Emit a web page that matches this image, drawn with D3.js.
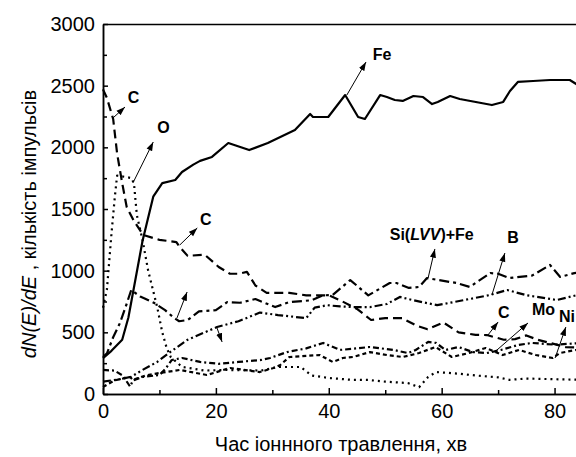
<!DOCTYPE html>
<html lang="uk">
<head>
<meta charset="UTF-8">
<title>dN(E)/dE profile</title>
<style>
  body { margin: 0; background: #fff; }
  svg { display: block; font-family: Arial, "Liberation Sans", sans-serif; }
  .axis path, .axis line { stroke: #000; stroke-width: 1.5; }
  .axis text { font-size: 20px; fill: #000; font-family: Arial, "Liberation Sans", sans-serif; }
  .series { fill: none; stroke: #000; stroke-width: 2.2; stroke-linejoin: round; }
  .label { font-size: 16px; font-weight: bold; }
  .arrow { stroke: #000; stroke-width: 1; }
</style>
</head>
<body>
<svg width="576" height="457"></svg>
<script src="https://d3js.org/d3.v7.min.js"></script>
<script>
// series: [time, min ; counts]
const fe = [[0,290],[1.5,350],[3.4,440],[4.5,620],[7,1240],[8.9,1600],[10.5,1710],[12.8,1735],[14,1800],[16,1860],[17.2,1890],[19.3,1922],[22.2,2035],[25.9,1978],[29.2,2035],[34,2140],[36.7,2270],[37.2,2246],[39.9,2246],[42.9,2424],[45.2,2246],[46.4,2230],[49.1,2424],[50.3,2408],[51.7,2384],[53.1,2376],[55,2416],[56.7,2408],[58.3,2351],[59.3,2368],[61.5,2416],[63.2,2392],[68.9,2343],[70.9,2368],[72.1,2457],[73.5,2530],[76.2,2538],[79.2,2546],[82.7,2546],[85,2480]];
const carbon = [[0,2470],[0.7,2400],[1.8,2230],[2.5,1950],[3.4,1710],[4.2,1516],[5.4,1410],[7.1,1290],[10,1250],[13,1232],[13.6,1192],[15,1120],[18,1130],[20.5,1030],[22.5,975],[24,975],[25.5,990],[27,880],[29,820],[33,820],[36,800],[40,800],[42,760],[45,690],[47.5,600],[50,615],[53,615],[55.5,555],[57.5,525],[60.3,580],[63,500],[66,480],[68,478],[71,440],[73,445],[75,475],[77,440],[79.5,410],[82,380],[85,375]];
const oxygen = [[0,700],[0.7,850],[1.5,1300],[2.1,1600],[2.5,1770],[4,1760],[5.1,1750],[5.5,1700],[6,1450],[7,1250],[8,1000],[9.6,705],[10.5,500],[11.3,370],[12,300],[14,220],[18,190],[22,195],[28,190],[31,219],[35,219],[37,150],[40,130],[44,115],[47,114],[50,100],[54,89],[56,55],[57.6,138],[59,178],[63,165],[66,150],[70,135],[72,115],[75,125],[80,120],[85,115]];
const siFe = [[0,300],[0.7,330],[1.8,460],[3,575],[4,705],[5,843],[6.6,790],[9,740],[11,680],[12.5,620],[13.5,590],[15,600],[17,670],[20,680],[22,745],[24.3,740],[27,770],[30.5,705],[33,745],[37,760],[39,800],[40.7,803],[43.8,924],[47,800],[50.8,900],[52,900],[54.2,860],[56,868],[57.4,940],[62.6,900],[65,868],[68.6,981],[70,975],[72,940],[76,960],[79.2,1046],[81,949],[83.5,980],[85,990]];
const boron = [[0,100],[3,120],[5,140],[7,195],[9.6,260],[11.9,340],[15,440],[20.2,543],[24,590],[27.8,660],[31,640],[34,625],[36,615],[37.5,700],[39.7,720],[42,710],[44.3,705],[47.3,705],[50.3,730],[52.6,787],[55,760],[59.2,720],[63.8,760],[68.6,803],[71.6,843],[75.1,800],[80.4,762],[83.8,800],[85,810]];
const moly = [[0,195],[2,190],[3.5,150],[4.8,60],[5.3,110],[7,138],[10,154],[11,200],[12.2,276],[14,292],[17.2,260],[20.5,245],[24,260],[28,276],[29.6,292],[32.6,340],[36,370],[39,414],[42,357],[45,370],[47.3,381],[51.5,357],[54,332],[55.4,357],[57.6,422],[59,414],[60.7,357],[63,381],[65.5,340],[68,332],[70.5,357],[73.5,397],[76,414],[80,400],[85,414]];
const nickel = [[0,57],[2,110],[4.8,138],[5.3,114],[7.5,150],[10,170],[13.6,195],[18.4,154],[22.5,211],[27.8,178],[30.2,211],[31.4,235],[33,300],[38.4,316],[40.7,260],[42.5,292],[44.3,300],[47.3,340],[50.3,316],[53.1,300],[56,332],[58.9,381],[61.8,300],[64.8,332],[67.8,373],[70.8,316],[73.7,357],[76.7,316],[79.7,292],[80.9,332],[83.8,357],[85,350]];

const xTicks = [0, 20, 40, 60, 80];
const xMinor = [10, 30, 50, 70, 90];
const yTicks = [0, 500, 1000, 1500, 2000, 2500, 3000];
const yMinor = [250, 750, 1250, 1750, 2250, 2750];

// annotations: text, label pos, arrow from -> to (data units)
const notes = [
  { text: "C", at: [4.4, 2360], from: [1.77, 2238], to: [3.9, 2327] },
  { text: "O", at: [9.6, 2116], from: [5.3, 1711], to: [8.9, 2043] },
  { text: "Fe", at: [47.8, 2708], from: [43.2, 2424], to: [46.6, 2692] },
  { text: "C", at: [17.2, 1370], from: [13.6, 1208], to: [16.7, 1346] },
  { text: "", at: null, from: [13.1, 616], to: [14.9, 827] },
  { text: "", at: null, from: [20.2, 535], to: [21.1, 422] },
  { text: "SiFe", at: [50.8, 1249], from: [57.6, 941], to: [58.8, 1176] },
  { text: "B", at: [71.6, 1224], from: [68.9, 803], to: [71.2, 1143] },
  { text: "C", at: [70, 616], from: [68.2, 478], to: [70, 584] },
  { text: "Mo", at: [76, 640], from: [69.4, 341], to: [75.3, 576] },
  { text: "Ni", at: [80.8, 584], from: [80.1, 292], to: [82, 543] }
];

const svg = d3.select("svg");

const x = d3.scaleLinear().domain([0, 90]).range([103, 611]);
const y = d3.scaleLinear().domain([0, 3000]).range([394, 24]);

// axes (ticks point inward)
svg.append("g").attr("class", "axis")
  .attr("transform", "translate(0,394)")
  .call(d3.axisBottom(x).tickValues(xTicks).tickFormat(d3.format("d"))
    .tickSize(-6).tickSizeOuter(0).tickPadding(10));
svg.append("g").attr("class", "axis")
  .attr("transform", "translate(0,394)")
  .call(d3.axisBottom(x).tickValues(xMinor).tickSize(-4).tickSizeOuter(0).tickFormat(""));
svg.append("g").attr("class", "axis")
  .attr("transform", "translate(103,0)")
  .call(d3.axisLeft(y).tickValues(yTicks).tickFormat(d3.format("d"))
    .tickSize(-5).tickSizeOuter(0).tickPadding(8));
svg.append("g").attr("class", "axis")
  .attr("transform", "translate(103,0)")
  .call(d3.axisLeft(y).tickValues(yMinor).tickSize(-4).tickSizeOuter(0).tickFormat(""));
svg.append("g").attr("class", "axis")
  .attr("transform", "translate(0,24)")
  .call(d3.axisTop(x).tickValues([]).tickSizeOuter(0));

const line = d3.line().x(d => x(d[0])).y(d => y(d[1]));

const series = [
  { data: fe, dash: null, w: 2.6 },
  { data: carbon, dash: "9,5", w: 2.3 },
  { data: oxygen, dash: "2,4", w: 2.3 },
  { data: siFe, dash: "10,4,3,4", w: 2.3 },
  { data: boron, dash: "8,3,2,3,2,3", w: 2.2 },
  { data: moly, dash: "6,3,2,3", w: 2.2 },
  { data: nickel, dash: "4,3", w: 2.2 }
];

svg.selectAll(".series")
  .data(series)
  .enter().append("path")
  .attr("class", "series")
  .attr("d", d => line(d.data))
  .attr("stroke-width", d => d.w)
  .attr("stroke-dasharray", d => d.dash);

// arrows
svg.append("defs").append("marker")
  .attr("id", "head")
  .attr("viewBox", "0 -4 10 8")
  .attr("refX", 10).attr("refY", 0)
  .attr("markerUnits", "userSpaceOnUse")
  .attr("markerWidth", 9).attr("markerHeight", 7)
  .attr("orient", "auto")
  .append("path").attr("d", "M0,-3.5L10,0L0,3.5Z").attr("fill", "#000");

svg.selectAll(".arrow")
  .data(notes)
  .enter().append("line")
  .attr("class", "arrow")
  .attr("x1", d => x(d.from[0])).attr("y1", d => y(d.from[1]))
  .attr("x2", d => x(d.to[0])).attr("y2", d => y(d.to[1]))
  .attr("marker-end", "url(#head)");

const lbl = svg.selectAll(".label")
  .data(notes.filter(d => d.at))
  .enter().append("text")
  .attr("class", "label")
  .attr("x", d => x(d.at[0]))
  .attr("y", d => y(d.at[1]));

lbl.filter(d => d.text !== "SiFe").text(d => d.text);
const si = lbl.filter(d => d.text === "SiFe");
si.append("tspan").text("Si(");
si.append("tspan").attr("font-style", "italic").text("LVV");
si.append("tspan").text(")+Fe");

// axis titles
svg.append("text")
  .attr("x", 341).attr("y", 451)
  .attr("text-anchor", "middle")
  .style("font-size", "20px")
  .text("Час іоннного травлення, хв");

const yt = svg.append("text")
  .attr("transform", "translate(36,224) rotate(-90)")
  .attr("text-anchor", "middle")
  .style("font-size", "20px");
yt.append("tspan").attr("font-style", "italic").text("dN(E)/dE");
yt.append("tspan").text(" , кількість імпульсів");
</script>
</body>
</html>
